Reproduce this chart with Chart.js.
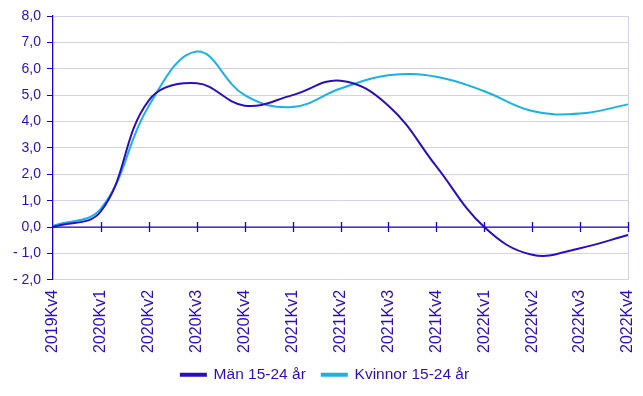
<!DOCTYPE html>
<html><head><meta charset="utf-8">
<script src="https://cdn.jsdelivr.net/npm/chart.js@4"></script>
<style>html,body{margin:0;padding:0;background:#fff}#w{width:643px;height:396px}</style>
</head><body><div id="w"><canvas id="c"></canvas></div>
<script>
const categories = ["2019Kv4","2020Kv1","2020Kv2","2020Kv3","2020Kv4","2021Kv1","2021Kv2","2021Kv3","2021Kv4","2022Kv1","2022Kv2","2022Kv3","2022Kv4"];
const man = [0.0, 0.6, 4.8, 5.45, 4.6, 5.0, 5.55, 4.6, 2.3, 0.0, -1.05, -0.8, -0.3];
const kvinnor = [0.05, 0.7, 4.6, 6.65, 5.0, 4.55, 5.25, 5.75, 5.7, 5.15, 4.4, 4.3, 4.65];
const yTicks = [-2,-1,0,1,2,3,4,5,6,7,8];

const AXIS = '#1E00C0', GRID = '#D2D2F0', TEXT = '#2A0FC0';
const fmt = v => (v < 0 ? '-\u00A0' + Math.abs(v).toFixed(1) : v.toFixed(1)).replace('.', ',');

const zeroAxis = {
  id: 'zeroAxis',
  afterDatasetsDraw(chart) {
    const {ctx, scales:{x, y}, chartArea} = chart;
    const y0 = y.getPixelForValue(0);
    ctx.save();
    ctx.strokeStyle = AXIS; ctx.lineWidth = 1.3;
    ctx.beginPath();
    ctx.moveTo(chartArea.left, y0); ctx.lineTo(chartArea.right, y0);
    for (let i = 1; i < categories.length; i++) {
      const px = Math.round(x.getPixelForValue(i)) + 0.5;
      ctx.moveTo(px, y0 - 5); ctx.lineTo(px, y0 + 5);
    }
    ctx.stroke();
    ctx.restore();
  }
};

// compact legend box: keep wide horizontal item spacing but less vertical space
const legendTweak = {
  id: 'legendTweak',
  afterInit(chart) {
    const lg = chart.legend;
    if (!lg || lg._tweaked) return;
    lg._tweaked = true;
    const fit = lg.fit.bind(lg), draw = lg.draw.bind(lg);
    lg.fit = function () { fit(); this.height = 31; this.minSize = {width: this.width, height: 31}; };
    lg.draw = function () { const c = chart.ctx; c.save(); c.translate(0, -12); draw(); c.restore(); };
  }
};

new Chart(document.getElementById('c'), {
  type: 'line',
  data: {
    labels: categories,
    datasets: [
      {label: 'Män 15-24 år', data: man, borderColor: '#2A0FC0', backgroundColor: '#2A0FC0', borderWidth: 2, pointRadius: 0, tension: 0.4, fill: false},
      {label: 'Kvinnor 15-24 år', data: kvinnor, borderColor: '#1AB0E8', backgroundColor: '#1AB0E8', borderWidth: 2, pointRadius: 0, tension: 0.4, fill: false}
    ]
  },
  options: {
    responsive: true, maintainAspectRatio: false, animation: false,
    layout: {padding: {left: 7, right: 0, top: 16, bottom: 2}},
    plugins: {
      legend: {position: 'bottom', labels: {boxWidth: 25, boxHeight: 2, color: TEXT, font: {family: 'Liberation Sans, Arial', size: 15.5}, padding: 16}},
      tooltip: {enabled: false}
    },
    scales: {
      x: {
        offset: false,
        afterFit: s => { s.paddingRight = 15; },
        grid: {display: true, drawTicks: false, color: ctx => ctx.index === categories.length - 1 ? GRID : 'rgba(0,0,0,0)'},
        border: {display: false},
        ticks: {color: TEXT, maxRotation: 90, minRotation: 90, autoSkip: false, padding: 10, font: {family: 'Liberation Sans, Arial', size: 16}}
      },
      y: {
        min: -2, max: 8,
        afterBuildTicks: s => { s.ticks = yTicks.map(v => ({value: v})); },
        grid: {color: GRID, tickColor: AXIS, tickLength: 6, lineWidth: 1},
        border: {display: true, color: AXIS, width: 1.3},
        ticks: {color: TEXT, padding: 6, callback: v => fmt(v), font: {family: 'Liberation Sans, Arial', size: 14}}
      }
    }
  },
  plugins: [zeroAxis, legendTweak]
});
</script></body></html>
